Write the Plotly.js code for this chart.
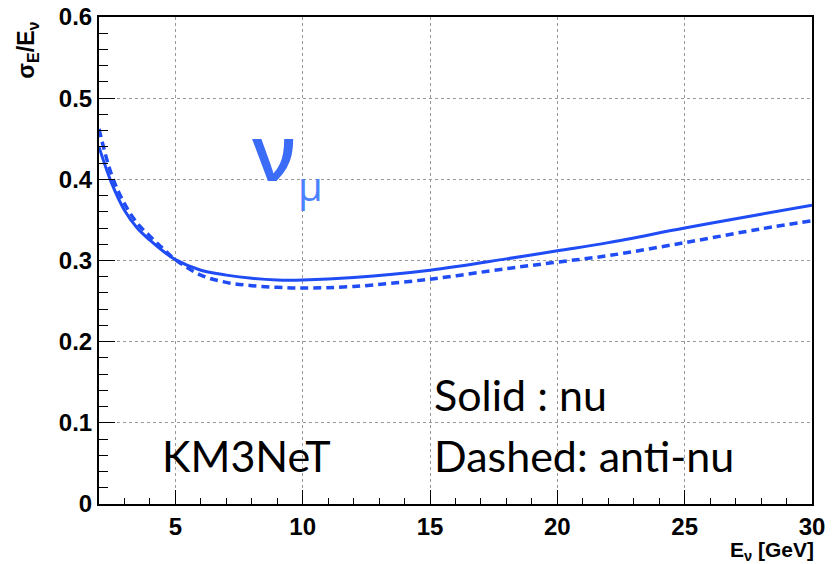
<!DOCTYPE html>
<html><head><meta charset="utf-8">
<script src="https://cdn.plot.ly/plotly-3.0.1.min.js"></script>
<style>body{margin:0;background:#fff}#c{width:833px;height:564px}</style>
</head><body><div id="c"></div>
<script>
const energyNu = [2, 2.5, 3, 3.5, 4, 4.5, 5, 6, 7, 8, 9, 10, 12, 15, 18, 20, 22, 25, 28, 30];
const resNu    = [0.440, 0.395, 0.362, 0.340, 0.325, 0.312, 0.301, 0.288, 0.282, 0.278, 0.276, 0.276, 0.279, 0.288, 0.302, 0.312, 0.322, 0.340, 0.357, 0.368];
const energyAnti = [2, 2.5, 3, 3.5, 4, 4.5, 5, 6, 7, 8, 9, 10, 12, 15, 18, 20, 22, 25, 28, 30];
const resAnti    = [0.462, 0.405, 0.370, 0.346, 0.330, 0.315, 0.301, 0.282, 0.273, 0.269, 0.267, 0.266, 0.268, 0.277, 0.290, 0.298, 0.306, 0.322, 0.339, 0.349];
const xTicks = [5, 10, 15, 20, 25, 30];
const yTicks = [0, 0.1, 0.2, 0.3, 0.4, 0.5, 0.6];

const blue = '#1f4cf5';
const traces = [
  {x: energyNu, y: resNu, mode: 'lines', line: {color: blue, width: 3, shape: 'spline'}, name: 'nu'},
  {x: energyAnti, y: resAnti, mode: 'lines', line: {color: blue, width: 3.5, dash: '8px,5px', shape: 'spline'}, name: 'anti-nu'}
];
const tickFont = {family: 'Liberation Sans, Arial, sans-serif', size: 24, color: '#000', weight: 'bold'};
const txtFont = {family: 'Lato, Open Sans, sans-serif', size: 43, color: '#000'};
const layout = {
  width: 833, height: 564,
  margin: {l: 99, r: 21, t: 17, b: 60},
  paper_bgcolor: '#fff', plot_bgcolor: '#fff',
  showlegend: false,
  xaxis: {range: [2, 30], tickvals: xTicks, ticktext: xTicks.map(String),
    ticks: 'inside', ticklen: 14, tickwidth: 1, tickcolor: '#000',
    showline: true, linecolor: '#000', linewidth: 2, mirror: true,
    showgrid: true, gridcolor: '#999', griddash: 'dot', gridwidth: 1,
    zeroline: false, tickfont: tickFont,
    minor: {dtick: 1, ticks: 'inside', ticklen: 6, tickcolor: '#000', showgrid: false}},
  yaxis: {range: [0, 0.6], tickvals: yTicks, ticktext: ['0','0.1','0.2','0.3','0.4','0.5','0.6'],
    ticks: 'inside', ticklen: 16, tickwidth: 1, tickcolor: '#000',
    showline: true, linecolor: '#000', linewidth: 2, mirror: true,
    showgrid: true, gridcolor: '#999', griddash: 'dot', gridwidth: 1,
    zeroline: false, tickfont: tickFont,
    minor: {dtick: 0.02, ticks: 'inside', ticklen: 9, tickcolor: '#000', showgrid: false}},
  annotations: [
    {xref: 'paper', yref: 'paper', x: 0.245, y: 0.725, text: 'ν', showarrow: false, font: {family: 'Open Sans, sans-serif', size: 78, color: '#3b6cf7', weight: 600}, xanchor: 'center', yanchor: 'middle'},
    {xref: 'paper', yref: 'paper', x: 0.297, y: 0.655, text: 'μ', showarrow: false, font: {family: 'Open Sans, sans-serif', size: 40, color: '#4a82ff'}, xanchor: 'center', yanchor: 'middle'},
    {xref: 'paper', yref: 'paper', x: 0.467, y: 0.224, text: 'Solid : nu', showarrow: false, font: txtFont, xanchor: 'left', yanchor: 'middle'},
    {xref: 'paper', yref: 'paper', x: 0.467, y: 0.1, text: 'Dashed: anti-nu', showarrow: false, font: txtFont, xanchor: 'left', yanchor: 'middle'},
    {xref: 'paper', yref: 'paper', x: 0.086, y: 0.1, text: 'KM3NeT', showarrow: false, font: txtFont, xanchor: 'left', yanchor: 'middle'},
    {xref: 'paper', yref: 'paper', x: 1.005, y: -0.066, text: 'E<sub>ν</sub> [GeV]', showarrow: false, font: {family: 'Liberation Sans, Arial, sans-serif', size: 21, color: '#000', weight: 'bold'}, xanchor: 'right', yanchor: 'top'},
    {xref: 'paper', yref: 'paper', x: -0.1, y: 0.995, text: 'σ<sub>E</sub>/E<sub>ν</sub>', showarrow: false, textangle: -90, font: {family: 'Liberation Sans, Arial, sans-serif', size: 23, color: '#000', weight: 'bold'}, xanchor: 'center', yanchor: 'top'}
  ]
};
Plotly.newPlot('c', traces, layout, {displayModeBar: false, staticPlot: true});
</script></body></html>
